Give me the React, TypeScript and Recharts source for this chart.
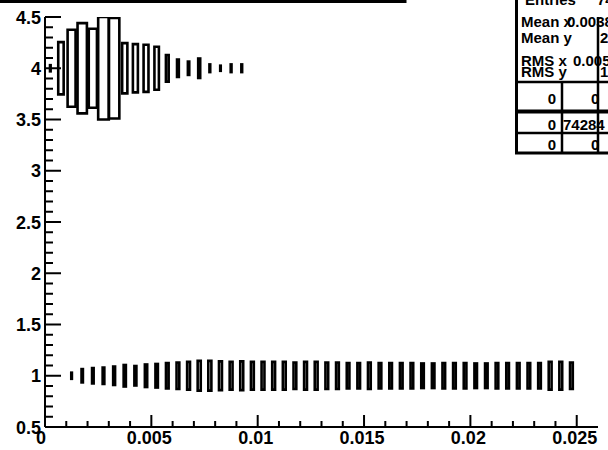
import { ComposedChart, XAxis, YAxis, Scatter, ReferenceArea } from "recharts";

// histogram binning (x: 0.0005 wide, y: 1 tall)
const binWidth = 0.0005;
const binHeight = 1;

// upper band, y bin centred at 4
const rowHighY = 4;
const rowHighX = [
  0.00025, 0.00075, 0.00125, 0.00175, 0.00225, 0.00275, 0.00325, 0.00375, 0.00425, 0.00475,
  0.00525, 0.00575, 0.00625, 0.00675, 0.00725, 0.00775, 0.00825, 0.00875, 0.00925,
];
// box size relative to the full bin (sqrt of content / max)
const rowHighBox = [
  0.06, 0.51, 0.75, 0.88, 0.77, 1.0, 0.98, 0.49, 0.47, 0.46,
  0.42, 0.26, 0.17, 0.13, 0.19, 0.075, 0.05, 0.075, 0.075,
];

// lower band, y bin centred at 1
const rowLowY = 1;
const rowLowX = [
  0.00125, 0.00175, 0.00225, 0.00275, 0.00325, 0.00375, 0.00425, 0.00475, 0.00525, 0.00575,
  0.00625, 0.00675, 0.00725, 0.00775, 0.00825, 0.00875, 0.00925, 0.00975, 0.01025, 0.01075,
  0.01125, 0.01175, 0.01225, 0.01275, 0.01325, 0.01375, 0.01425, 0.01475, 0.01525, 0.01575,
  0.01625, 0.01675, 0.01725, 0.01775, 0.01825, 0.01875, 0.01925, 0.01975, 0.02025, 0.02075,
  0.02125, 0.02175, 0.02225, 0.02275, 0.02325, 0.02375, 0.02425, 0.02475,
];
const rowLowBox = [
  0.06, 0.13, 0.15, 0.16, 0.18, 0.21, 0.19, 0.22, 0.23, 0.25,
  0.26, 0.27, 0.29, 0.29, 0.28, 0.27, 0.28, 0.27, 0.27, 0.27,
  0.27, 0.26, 0.27, 0.27, 0.26, 0.26, 0.25, 0.25, 0.26, 0.25,
  0.25, 0.25, 0.25, 0.24, 0.24, 0.25, 0.25, 0.25, 0.24, 0.24,
  0.25, 0.25, 0.25, 0.25, 0.25, 0.27, 0.27, 0.26,
];

const xTicks = [
  0, 0.001, 0.002, 0.003, 0.004, 0.005, 0.006, 0.007, 0.008, 0.009, 0.01, 0.011, 0.012, 0.013,
  0.014, 0.015, 0.016, 0.017, 0.018, 0.019, 0.02, 0.021, 0.022, 0.023, 0.024, 0.025,
];
const xMajor = [0, 0.005, 0.01, 0.015, 0.02, 0.025];
const xLabels = ["0", "0.005", "0.01", "0.015", "0.02", "0.025"];

const yTicks = [
  0.5, 0.6, 0.7, 0.8, 0.9, 1, 1.1, 1.2, 1.3, 1.4, 1.5, 1.6, 1.7, 1.8, 1.9, 2, 2.1, 2.2, 2.3, 2.4,
  2.5, 2.6, 2.7, 2.8, 2.9, 3, 3.1, 3.2, 3.3, 3.4, 3.5, 3.6, 3.7, 3.8, 3.9, 4, 4.1, 4.2, 4.3, 4.4, 4.5,
];
const yMajor = [0.5, 1, 1.5, 2, 2.5, 3, 3.5, 4, 4.5];
const yLabels = ["0.5", "1", "1.5", "2", "2.5", "3", "3.5", "4", "4.5"];

// stats box
const statNames = ["Entries", "Mean x", "Mean y", "RMS x", "RMS y"];
const statValues = ["74284", "0.003822", "2.071", "0.005165", "1.416"];
const tableLeft = ["0", "0", "0"];
const tableMid = ["0", "74284", "0"];

const font = "'Liberation Sans', Arial, Helvetica, sans-serif";

const boxes = [
  ...rowHighX.map((x, i) => ({ x, y: rowHighY, s: rowHighBox[i] })),
  ...rowLowX.map((x, i) => ({ x, y: rowLowY, s: rowLowBox[i] })),
];

const XTick = (props: any) => {
  const { x, y, payload } = props;
  const k = xMajor.indexOf(payload.value);
  return (
    <g>
      <line x1={x} x2={x} y1={y} y2={y - (k >= 0 ? 12 : 6)} stroke="#000" strokeWidth={2} />
      {k >= 0 && (
        <text x={x - (k === 0 ? 4 : 2)} y={y + 17} textAnchor="middle" fontFamily={font} fontWeight="bold" fontSize={18} fill="#000">
          {xLabels[k]}
        </text>
      )}
    </g>
  );
};

const YTick = (props: any) => {
  const { x, y, payload } = props;
  const k = yMajor.indexOf(payload.value);
  return (
    <g>
      <line x1={x} x2={x + (k >= 0 ? 16 : 8)} y1={y} y2={y} stroke="#000" strokeWidth={2} />
      {k >= 0 && (
        <text x={x - 4} y={y + 6.5} textAnchor="end" fontFamily={font} fontWeight="bold" fontSize={18} fill="#000">
          {yLabels[k]}
        </text>
      )}
    </g>
  );
};

const rowBase = [104, 130, 150];

const StatsBox = () => (
  <svg width={608} height={450} style={{ position: "absolute", left: 0, top: 0, pointerEvents: "none" }}>
    {/* bottom edge of the title pave */}
    <rect x={-10} y={-40} width={415} height={41.5} fill="#fff" stroke="#000" strokeWidth={3} />
    <rect x={516.5} y={-40} width={200} height={193} fill="#fff" stroke="#000" strokeWidth={3} />
    <g fontFamily={font} fontWeight="bold" fontSize={15} fill="#000">
      <text x={525} y={5}>{statNames[0]}</text>
      <text x={597} y={5}>{statValues[0]}</text>
      <text x={521} y={27}>{statNames[1]}</text>
      <text x={567} y={27}>{statValues[1]}</text>
      <text x={521} y={43}>{statNames[2]}</text>
      <text x={600} y={43}>{statValues[2]}</text>
      <text x={521} y={66}>{statNames[3]}</text>
      <text x={573} y={66}>{statValues[3]}</text>
      <text x={521} y={77}>{statNames[4]}</text>
      <text x={600} y={77}>{statValues[4]}</text>
      {tableLeft.map((t, i) => (
        <text key={"l" + i} x={556} y={rowBase[i]} textAnchor="end">{t}</text>
      ))}
      {tableMid.map((t, i) => (
        <text key={"m" + i} x={t.length > 1 ? 563 : 591} y={rowBase[i]}>{t}</text>
      ))}
    </g>
    <g stroke="#000">
      <line x1={515} x2={608} y1={82} y2={82} strokeWidth={2.5} />
      <line x1={515} x2={608} y1={111.5} y2={111.5} strokeWidth={4} />
      <line x1={515} x2={608} y1={133} y2={133} strokeWidth={2.5} />
      <line x1={562} x2={562} y1={82} y2={153} strokeWidth={2.5} />
      <line x1={598} x2={598} y1={17} y2={153} strokeWidth={2.5} />
    </g>
  </svg>
);

export default function App() {
  return (
    <div style={{ position: "absolute", left: 0, top: 0, width: 608, height: 450, background: "#fff" }}>
      <ComposedChart width={608} height={450} data={boxes} margin={{ top: 17, right: 10, bottom: 0, left: 0 }}>
        <XAxis
          dataKey="x"
          type="number"
          domain={[0, 0.026]}
          ticks={xTicks}
          interval={0}
          height={23}
          tickSize={0}
          tickMargin={0}
          tick={<XTick />}
          allowDataOverflow
          axisLine={{ stroke: "#000", strokeWidth: 2 }}
        />
        <XAxis
          xAxisId="top"
          orientation="top"
          type="number"
          domain={[0, 0.026]}
          height={0}
          tick={false}
          tickLine={false}
          axisLine={{ stroke: "#000", strokeWidth: 2 }}
        />
        <YAxis
          dataKey="y"
          type="number"
          domain={[0.5, 4.5]}
          ticks={yTicks}
          interval={0}
          width={45}
          tickSize={0}
          tickMargin={0}
          tick={<YTick />}
          allowDataOverflow
          axisLine={{ stroke: "#000", strokeWidth: 2 }}
        />
        <YAxis
          yAxisId="right"
          orientation="right"
          type="number"
          domain={[0.5, 4.5]}
          width={0}
          tick={false}
          tickLine={false}
          axisLine={{ stroke: "#000", strokeWidth: 2 }}
        />
        <Scatter dataKey="y" isAnimationActive={false} shape={() => <g />} />
        {boxes.map((b, i) => (
          <ReferenceArea
            key={i}
            x1={b.x - (b.s * binWidth) / 2}
            x2={b.x + (b.s * binWidth) / 2}
            y1={b.y - (b.s * binHeight) / 2}
            y2={b.y + (b.s * binHeight) / 2}
            ifOverflow="hidden"
            fill="none"
            stroke="#000"
            strokeWidth={2.6}
          />
        ))}
      </ComposedChart>
      <StatsBox />
    </div>
  );
}
